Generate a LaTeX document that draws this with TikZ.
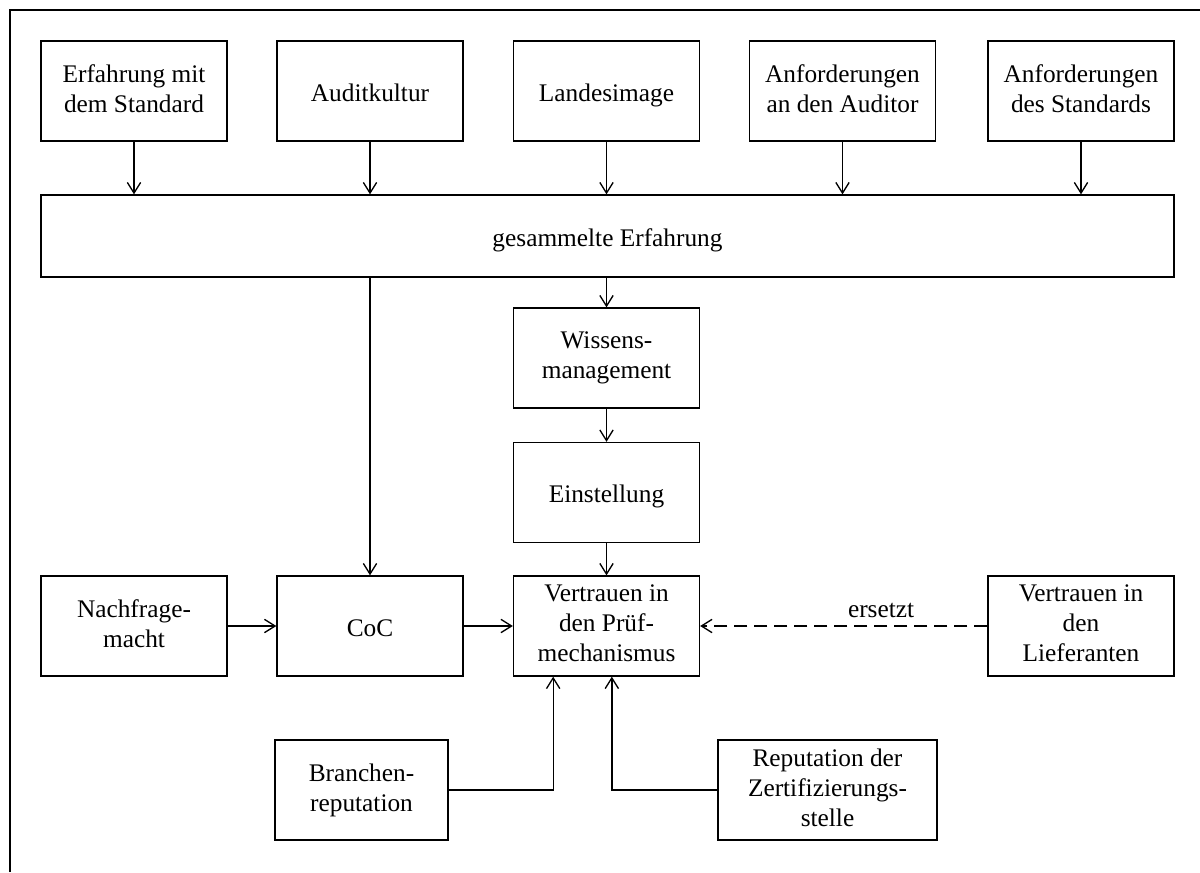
\documentclass[tikz,border=0pt]{standalone}
\usepackage{fontspec}
\setmainfont{Liberation Serif}
\usetikzlibrary{arrows.meta}

\tikzset{every picture/.style={line width=1pt}}
\newcommand{\zeile}{\rule[-3.75pt]{0pt}{22.5pt}}
\newcommand{\zeilehoch}{\rule[-3.75pt]{0pt}{29.3pt}}
\tikzset{
  kasten/.style={draw, align=center, inner sep=0pt, minimum height=75pt, minimum width=139.5pt,
    font=\fontsize{19}{22.5}\selectfont, execute at begin node=\zeile, text depth=3.75pt},
  mehrzeilig/.style={execute at begin node=\zeilehoch},
  pfeil/.style={-{Straight Barb[length=8pt,width=10pt]}}
}

\begin{document}
\begin{tikzpicture}[x=0.75pt,y=0.75pt,yscale=-1,xscale=1]
\useasboundingbox (0,0) rectangle (1200,872);

%Frame
\draw [line width=2pt] (10,872) -- (10,10) -- (1200,10) ;

%Shape: Rectangle (top row)
\draw (134,91) node [kasten, mehrzeilig] (erf) {Erfahrung mit\\dem Standard};
\draw (370,91) node [kasten] (audit) {Auditkultur};
\draw (606.5,91) node [kasten] (land) {Landesimage};
\draw (842.5,91) node [kasten, mehrzeilig] (anfa) {Anforderungen\\an den Auditor};
\draw (1081,91) node [kasten, mehrzeilig] (anfs) {Anforderungen\\des Standards};

%Shape: Rectangle
\draw (607.5,236) node [kasten, minimum width=849.75pt, minimum height=61.5pt] (ges) {gesammelte Erfahrung};

%Shape: Rectangle (middle column)
\draw (606.5,358) node [kasten, mehrzeilig] (wiss) {Wissens-\\management};
\draw (606.5,492.5) node [kasten] (einst) {Einstellung};
\draw (606.5,626) node [kasten, mehrzeilig] (vert) {Vertrauen in\\den Prüf-\\mechanismus};

%Shape: Rectangle (row of Vertrauen)
\draw (134,626) node [kasten, mehrzeilig] (nach) {Nachfrage-\\macht};
\draw (370,626) node [kasten] (coc) {CoC};
\draw (1081,626) node [kasten, mehrzeilig] (lief) {Vertrauen in\\den\\Lieferanten};

%Shape: Rectangle (bottom row)
\draw (361.5,790) node [kasten, mehrzeilig, minimum width=129.75pt] (bran) {Branchen-\\reputation};
\draw (827.5,790) node [kasten, mehrzeilig, minimum width=164.25pt] (rep) {Reputation der\\Zertifizierungs-\\stelle};

%Straight Lines
\foreach \n in {erf,audit,land,anfa,anfs}
  \draw [pfeil] (\n) -- (\n |- ges.north) ;

\draw [pfeil] (ges.south -| coc) -- (coc.north) ;
\draw [pfeil] (ges.south -| wiss) -- (wiss.north) ;
\draw [pfeil] (wiss) -- (einst) ;
\draw [pfeil] (einst) -- (vert) ;
\draw [pfeil] (nach) -- (coc) ;
\draw [pfeil] (coc) -- (vert) ;

%Dashed Line
\draw [pfeil, dash pattern=on 10pt off 5pt] (lief) -- (vert) node [pos=0.37, above=6pt, inner sep=0pt, font=\fontsize{19}{22.5}\selectfont] (ers) {ersetzt} ;

%Elbow Lines
\draw [pfeil] (bran.east) -| ([xshift=-40pt]vert.south) ;
\draw [pfeil] (rep.west) -| ([xshift=4pt]vert.south) ;

\end{tikzpicture}
\end{document}
